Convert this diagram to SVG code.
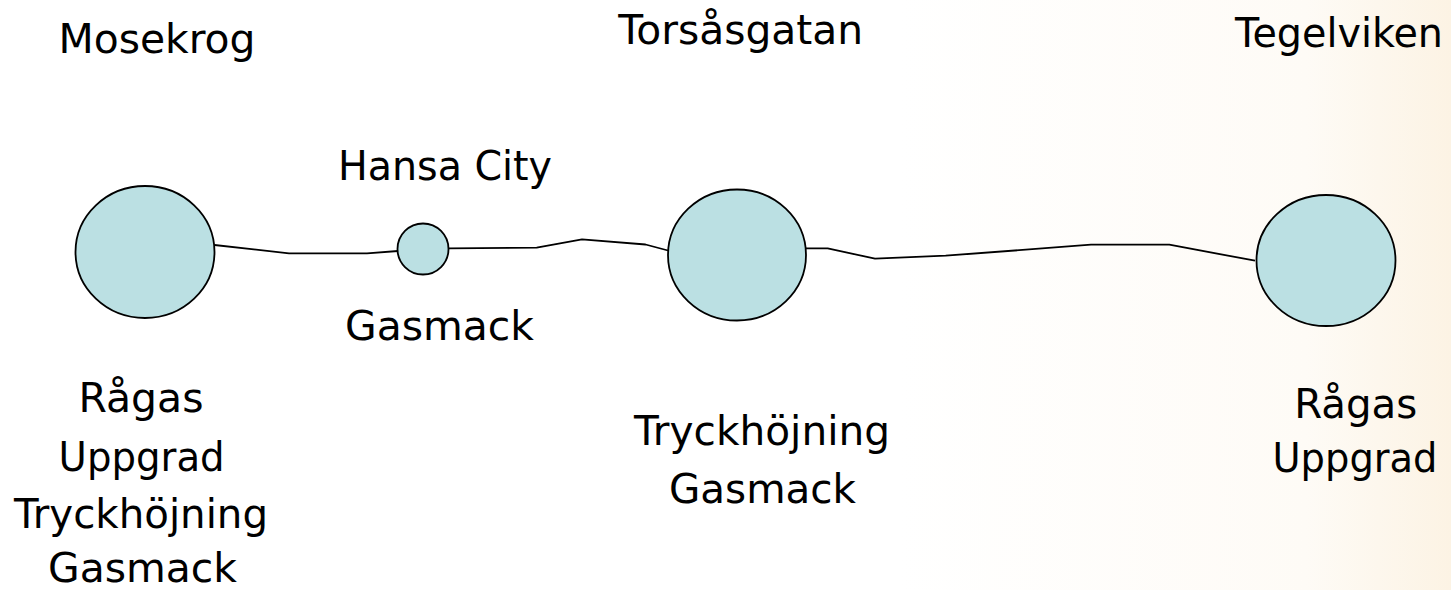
<svg xmlns="http://www.w3.org/2000/svg" width="1451" height="590" viewBox="0 0 1451 590">
  <defs>
    <linearGradient id="bg" x1="0" y1="0" x2="1451" y2="0" gradientUnits="userSpaceOnUse">
      <stop offset="0" stop-color="#ffffff"/>
      <stop offset="0.62" stop-color="#ffffff"/>
      <stop offset="0.9" stop-color="#fefbf6"/>
      <stop offset="1" stop-color="#fcf3e4"/>
    </linearGradient>
  </defs>
  <style>
    .node { fill: #bbe0e3; stroke: #000000; stroke-width: 1.8; }
    .conn { fill: none; stroke: #000000; stroke-width: 1.8; stroke-linejoin: round; }
    text { font-family: "DejaVu Sans", "Liberation Sans", sans-serif; font-size: 40px; fill: #000000; text-anchor: middle; }
  </style>
  <rect x="0" y="0" width="1451" height="590" fill="url(#bg)"/>

  <g id="connectors">
    <polyline class="conn" points="214.5,245 289,253.3 367,253.3 398,251"/>
    <polyline class="conn" points="448.8,248.4 536.7,247.6 582,239.4 645.5,244.5 668,250.5"/>
    <polyline class="conn" points="805.6,248.3 827.7,248.3 875,258.7 945.7,255.7 1091,244.7 1169.3,244.7 1255,260.7"/>
  </g>

  <g id="mosekrog">
    <ellipse class="node" cx="145" cy="252" rx="69.5" ry="66"/>
    <text x="157" y="52.7" textLength="197" lengthAdjust="spacingAndGlyphs">Mosekrog</text>
    <text x="141" y="412" textLength="125" lengthAdjust="spacingAndGlyphs">Rågas</text>
    <text x="141.6" y="470.5" textLength="166" lengthAdjust="spacingAndGlyphs">Uppgrad</text>
    <text x="141" y="527.7" textLength="254" lengthAdjust="spacingAndGlyphs">Tryckhöjning</text>
    <text x="142.5" y="581.5" textLength="189" lengthAdjust="spacingAndGlyphs">Gasmack</text>
  </g>

  <g id="hansa-city">
    <circle class="node" cx="423" cy="249" r="25.5"/>
    <text x="445" y="180" textLength="214" lengthAdjust="spacingAndGlyphs">Hansa City</text>
    <text x="439.5" y="340" textLength="189" lengthAdjust="spacingAndGlyphs">Gasmack</text>
  </g>

  <g id="torsasgatan">
    <ellipse class="node" cx="737" cy="255" rx="69" ry="65.5"/>
    <text x="740.7" y="44" textLength="245" lengthAdjust="spacingAndGlyphs">Torsåsgatan</text>
    <text x="762" y="444.5" textLength="256" lengthAdjust="spacingAndGlyphs">Tryckhöjning</text>
    <text x="762.5" y="502.5" textLength="187" lengthAdjust="spacingAndGlyphs">Gasmack</text>
  </g>

  <g id="tegelviken">
    <ellipse class="node" cx="1326" cy="260.5" rx="69.5" ry="65.5"/>
    <text x="1339" y="47" textLength="208" lengthAdjust="spacingAndGlyphs">Tegelviken</text>
    <text x="1355.7" y="418" textLength="123" lengthAdjust="spacingAndGlyphs">Rågas</text>
    <text x="1355" y="472.3" textLength="165" lengthAdjust="spacingAndGlyphs">Uppgrad</text>
  </g>
</svg>
